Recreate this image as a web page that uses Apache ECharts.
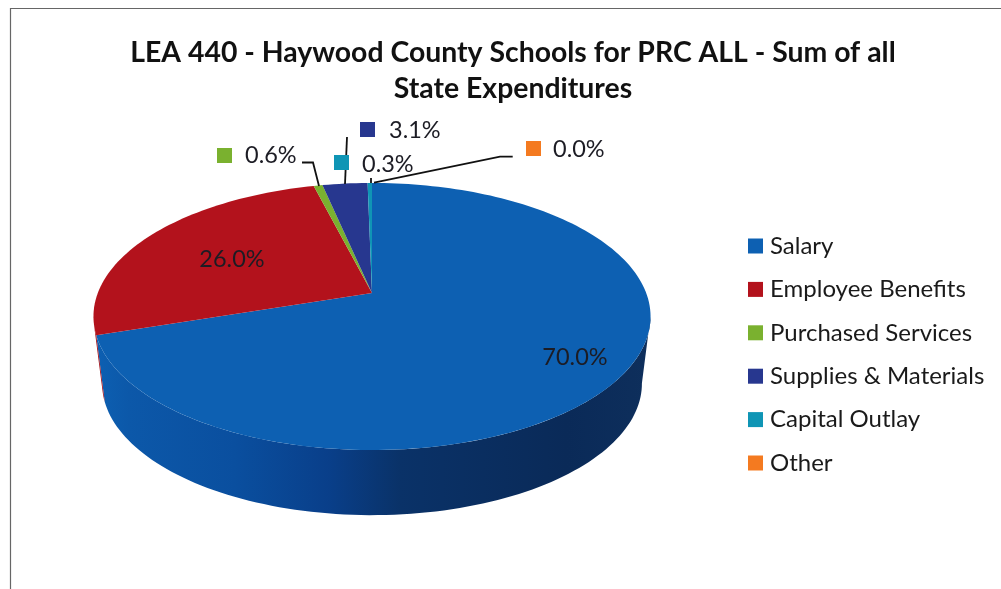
<!DOCTYPE html>
<html><head><meta charset="utf-8">
<style>html,body{margin:0;padding:0;background:#fff}#c{width:1001px;height:589px}</style>
<script src="https://cdn.jsdelivr.net/npm/echarts@6/dist/echarts.min.js"></script>
</head><body><div id="c"></div>
<script>
const titleText = 'LEA 440 - Haywood County Schools for PRC ALL - Sum of all\nState Expenditures';
const categories = ['Salary','Employee Benefits','Purchased Services','Supplies & Materials','Capital Outlay','Other'];
const values = [70.0,26.0,0.6,3.1,0.3,0.0];
const colors = ['#0d60b2','#b3121c','#7ab12f','#27378f','#0f95b5','#f47a20'];
const sideColors = [null,'#a3111a','#5c8a20','#1b2768','#0b6f88','#b85a15'];

const FONT = 'Lato, Carlito, sans-serif';
const total = values.reduce((a,b)=>a+b,0);
const cum = values.map((_,i)=>values.slice(0,i).reduce((a,b)=>a+b,0));

// perspective projection of the pie's top and bottom discs
const K = 0.176;
const TOP = {cx:372, cy:293, A:274.2, B:129.4};
const BOT = {cx:372, cy:360.4, A:265.7, B:127.5};
function proj(d, deg){
  const t = deg*Math.PI/180, u = Math.sin(t), v = Math.cos(t), w = 1+K*v;
  return [d.cx + d.A*u/w, d.cy - d.B*v/w];
}
function arc(d, a, b){
  const pts = [], n = Math.max(2, Math.ceil(Math.abs(b-a)/1.5));
  for(let i=0;i<=n;i++) pts.push(proj(d, a+(b-a)*i/n));
  return pts;
}
const VIS = [100, 256]; // part of the rim facing the viewer (degrees clockwise from 12 o'clock)

// label placement: marker box, text anchor, leader polyline
const labelLayout = [
  {text:[575,357]},
  {text:[232,259]},
  {box:[217,148], text:[245,155], lead:[[302,162.5],[313,162.5],[319,186]]},
  {box:[360,122], text:[389,130], lead:[[347,137],[345,184]]},
  {box:[334,155], text:[362,164], lead:[[371,178],[371,183]]},
  {box:[526,141], text:[553,149], lead:[[512.7,156.7],[500,156.7],[374,182.7]]}
];

function renderSlice(idx){
  return function(params, api){
    const val = api.value(0);
    const a0 = cum[idx]/total*360, a1 = a0 + val/total*360;
    const color = colors[idx];
    const kids = [];
    const s0 = Math.max(a0, VIS[0]), s1 = Math.min(a1, VIS[1]);
    if(s1 > s0){
      const fill = idx===0 ? new echarts.graphic.LinearGradient(95,0,650,0,[
        {offset:0,color:'#0d60b2'},{offset:0.06,color:'#0c58a9'},{offset:0.25,color:'#0a4f9f'},{offset:0.42,color:'#093f8a'},
        {offset:0.55,color:'#0a3268'},{offset:0.85,color:'#0a2a58'},{offset:1,color:'#0e2f5c'}],true) : sideColors[idx];
      kids.push({type:'polygon',shape:{points:arc(TOP,s0,s1).concat(arc(BOT,s1,s0))},style:{fill:fill}});
    }
    if(val > 0){
      kids.push({type:'polygon',shape:{points:[[TOP.cx,TOP.cy]].concat(arc(TOP,a0,a1))},style:{fill:color}});
    }
    const L = labelLayout[idx];
    if(L.lead) kids.push({type:'polyline',shape:{points:L.lead},style:{fill:null,stroke:'#111',lineWidth:1.8},z2:20});
    if(L.box) kids.push({type:'rect',shape:{x:L.box[0],y:L.box[1],width:15,height:15},style:{fill:color},z2:20});
    kids.push({type:'text',z2:21,style:{text:(val/total*100).toFixed(1)+'%',x:L.text[0],y:L.text[1],
      fill:'#1c1c24',font:'23.5px '+FONT,textAlign:L.box?'left':'center',textVerticalAlign:'middle'}});
    return {type:'group',children:kids};
  };
}

const chart = echarts.init(document.getElementById('c'),null,{renderer:'canvas'});
chart.setOption({
  animation:false,
  backgroundColor:'#ffffff',
  title:{text:titleText,left:513,top:30,textAlign:'center',padding:[5,10,5,0],
    textStyle:{fontFamily:FONT,fontWeight:'bold',fontSize:28.4,lineHeight:36,color:'#111'}},
  legend:{orient:'vertical',left:748,top:232,padding:0,itemWidth:15,itemHeight:15,itemGap:15.4,icon:'rect',
    data:categories,selectedMode:false,
    textStyle:{fontFamily:FONT,fontSize:24,color:'#1a1a1a',height:28,lineHeight:28,padding:[0,0,0,2]}},
  graphic:[{type:'polyline',silent:true,shape:{points:[[10.5,600],[10.5,8.5],[1010,8.5]]},
    style:{fill:null,stroke:'#666',lineWidth:1.2}}],
  series:categories.map((name,i)=>({
    type:'custom',name:name,coordinateSystem:'none',silent:true,
    itemStyle:{color:colors[i]},
    data:[{value:[values[i]]}],
    renderItem:renderSlice(i),z:2+i
  }))
});
</script></body></html>
